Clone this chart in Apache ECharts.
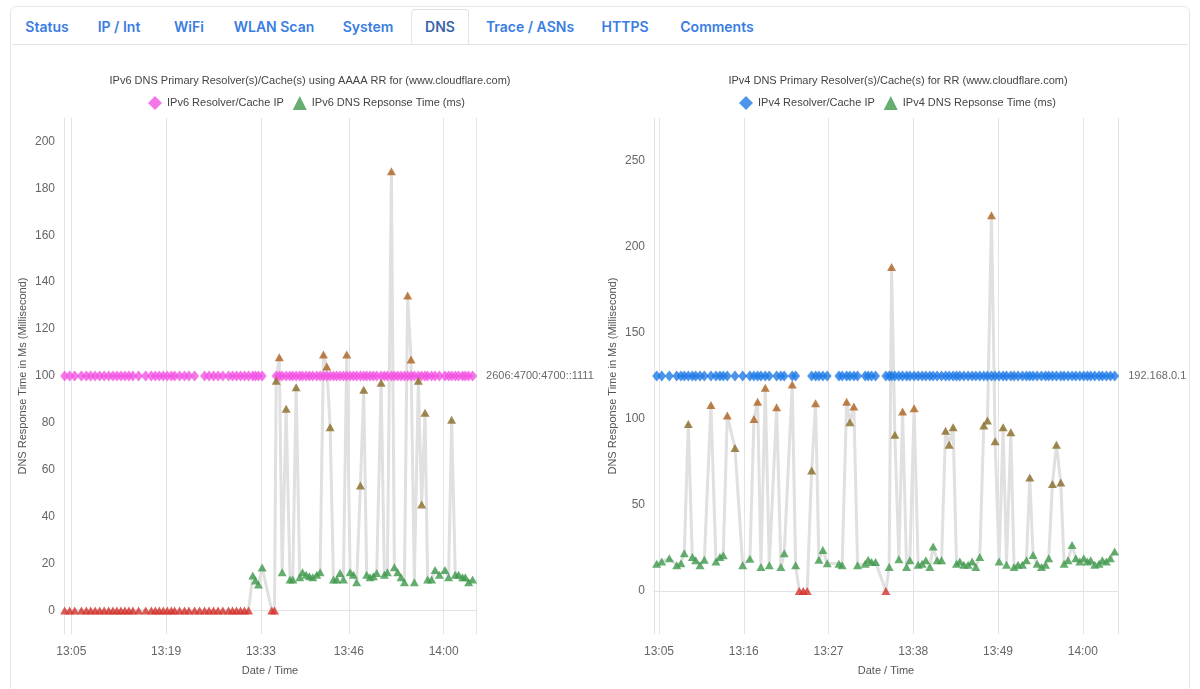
<!DOCTYPE html>
<html>
<head>
<meta charset="utf-8">
<script src="https://cdn.jsdelivr.net/npm/echarts@6/dist/echarts.min.js"></script>
<style>
html,body{margin:0;padding:0;background:#fff;width:1200px;height:689px;overflow:hidden;font-family:Inter,"Noto Sans",sans-serif;}
#card{position:absolute;left:10px;top:6px;width:1180px;height:720px;border:1px solid #e4e7eb;border-radius:6px;box-sizing:border-box;}
#tabs{position:absolute;left:12px;top:10px;width:1176px;height:34px;border-bottom:1px solid #dee2e6;}
.tab{position:absolute;top:0;height:34px;line-height:34px;font-size:14px;font-weight:600;color:#3a7de2;transform:translateX(-50%);white-space:nowrap;}
.tab.active{color:#3b66aa;background:#fff;border:1px solid #dee2e6;border-bottom:1px solid #fff;border-radius:4px 4px 0 0;padding:0 13px;height:35px;top:-1px;box-sizing:border-box;line-height:34px;}
#chart{position:absolute;left:0;top:0;width:1200px;height:689px;}
</style>
</head>
<body>
<div id="card"></div>
<div id="tabs"></div>
<div id="chart"></div>
<script>
// ---------- data ----------
const tabNames = ['Status', 'IP / Int', 'WiFi', 'WLAN Scan', 'System', 'DNS', 'Trace / ASNs', 'HTTPS', 'Comments'];
const activeTab = 'DNS';

const ipv6Title = 'IPv6 DNS Primary Resolver(s)/Cache(s) using AAAA RR for (www.cloudflare.com)';
const ipv4Title = 'IPv4 DNS Primary Resolver(s)/Cache(s) for RR (www.cloudflare.com)';
const ipv6ResolverName = 'IPv6 Resolver/Cache IP';
const ipv6RespName = 'IPv6 DNS Repsonse Time (ms)';
const ipv4ResolverName = 'IPv4 Resolver/Cache IP';
const ipv4RespName = 'IPv4 DNS Repsonse Time (ms)';
const ipv6ResolverIP = '2606:4700:4700::1111';
const ipv4ResolverIP = '192.168.0.1';
const yAxisName = 'DNS Response Time in Ms (Millisecond)';
const xAxisName = 'Date / Time';

// x tick labels (minutes after 13:00)
const ipv6XTicks = [5, 19, 33, 46, 60];
const ipv4XTicks = [5, 16, 27, 38, 49, 60];
const ipv6YTicks = [0, 20, 40, 60, 80, 100, 120, 140, 160, 180, 200];
const ipv4YTicks = [0, 50, 100, 150, 200, 250];

// sample times, minutes after 13:00
const ipv6Times = [
  4.01, 4.75, 5.49, 6.48, 7.21, 7.85, 8.51, 9.18, 9.84, 10.51,
  11.14, 11.73, 12.32, 12.91, 13.50, 14.09, 14.93, 15.97, 16.81, 17.40,
  17.99, 18.58, 19.17, 19.76, 20.25, 20.99, 21.72, 22.36, 23.20, 23.94,
  24.68, 25.34, 26.00, 26.67, 27.38, 28.22, 28.81, 29.40, 29.99, 30.58,
  31.17, 31.80, 32.20, 32.64, 33.19, 34.61, 35.01, 35.26, 35.72, 36.14,
  36.73, 37.30, 37.71, 38.21, 38.74, 39.14, 39.69, 40.17, 40.66, 41.25,
  41.75, 42.24, 42.73, 43.23, 43.72, 44.20, 44.70, 45.19, 45.68, 46.18,
  46.67, 47.15, 47.70, 48.19, 48.63, 49.13, 49.62, 50.11, 50.76, 51.24,
  51.69, 52.28, 52.72, 53.21, 53.71, 54.20, 54.68, 55.18, 55.67, 56.26,
  56.75, 57.25, 57.63, 58.22, 58.73, 59.36, 60.20, 60.73, 61.18, 61.72,
  62.21, 62.80, 63.20, 63.69, 64.28
];
const ipv6Resp = [
  0, 0, 0, 0, 0, 0, 0, 0, 0, 0,
  0, 0, 0, 0, 0, 0, 0, 0, 0, 0,
  0, 0, 0, 0, 0, 0, 0, 0, 0, 0,
  0, 0, 0, 0, 0, 0, 0, 0, 0, 0,
  0, 14.9, 12.8, 11.1, 18.3, 0, 0, 98, 108, 16.3,
  86, 13.2, 13.2, 95.2, 14.2, 16.3, 15.3, 14.6, 14.2, 15.3,
  16.3, 109.2, 104, 78.2, 13.2, 13.2, 16, 13.2, 109.2, 16.3,
  15.3, 12.1, 53.3, 94.1, 15.3, 14.2, 14.6, 16, 97.1, 15.3,
  16.3, 187.3, 18.5, 16.3, 14.2, 12.1, 134.3, 107, 12.1, 98,
  45.2, 84.3, 13.2, 13.2, 17.3, 15.3, 17.3, 14.2, 81.3, 15.3,
  15.3, 14.2, 14.2, 12.1, 13.2
];
// resolver marker level (null = no resolver recorded for that sample)
const ipv6Resolver = [
  100, 100, 100, 100, 100, 100, 100, 100, 100, 100,
  100, 100, 100, 100, 100, 100, 100, 100, 100, 100,
  100, 100, 100, 100, 100, 100, 100, 100, 100, null,
  100, 100, 100, 100, 100, 100, 100, 100, 100, 100,
  100, 100, 100, 100, 100, null, null, 100, 100, 100,
  100, 100, 100, 100, 100, 100, 100, 100, 100, 100,
  100, 100, 100, 100, 100, 100, 100, 100, 100, 100,
  100, 100, 100, 100, 100, 100, 100, 100, 100, 100,
  100, 100, 100, 100, 100, 100, 100, 100, 100, 100,
  100, 100, 100, 100, 100, 100, 100, 100, 100, 100,
  100, 100, 100, 100, 100
];

const ipv4Times = [
  4.70, 5.35, 6.34, 7.30, 7.85, 8.28, 8.80, 9.32, 9.76, 10.32,
  10.88, 11.74, 12.39, 12.91, 13.34, 13.86, 14.86, 15.86, 16.80, 17.32,
  17.80, 18.23, 18.79, 19.31, 20.27, 20.82, 21.25, 22.29, 22.73, 23.20,
  23.72, 24.23, 24.81, 25.32, 25.75, 26.27, 26.83, 28.35, 28.77, 29.35,
  29.77, 30.29, 30.77, 31.76, 32.15, 32.59, 33.11, 34.44, 34.87, 35.18,
  35.61, 36.13, 36.61, 37.13, 37.56, 38.11, 38.63, 39.15, 39.63, 40.15,
  40.58, 41.10, 41.67, 42.19, 42.65, 43.17, 43.61, 44.04, 44.56, 45.12,
  45.64, 46.12, 46.63, 47.15, 47.63, 48.15, 48.62, 49.14, 49.66, 50.10,
  50.66, 51.08, 51.60, 52.17, 52.69, 53.12, 53.55, 54.07, 54.64, 55.16,
  55.58, 56.06, 56.58, 57.14, 57.57, 58.09, 58.61, 59.09, 59.61, 60.13,
  60.60, 61.03, 61.55, 62.11, 62.54, 63.06, 63.58, 64.14
];
const ipv4Resp = [
  15.9, 17.1, 19.0, 15.0, 16.1, 22, 97.1, 19.8, 17.9, 15.0,
  18.1, 108.2, 17.1, 19.8, 20.8, 102, 83.2, 15.0, 18.8, 100,
  110.1, 14.0, 118.1, 15.0, 106.8, 14.0, 22, 120, 15.0, 0,
  0, 0, 70, 109.2, 18.1, 23.9, 16.1, 15.9, 15.0, 110.1,
  98.1, 107.2, 15.0, 15.9, 18.1, 16.9, 16.9, 0, 14.0, 188.4,
  90.9, 18.5, 104.3, 14, 17.9, 106.3, 15.2, 15.9, 17.9, 14,
  25.8, 17.9, 17.9, 93.2, 85.1, 95.2, 15.9, 17.1, 15.2, 15.2,
  17.1, 14, 19.8, 96.2, 99.1, 218.5, 87, 17.1, 95.2, 15.2,
  92.3, 14, 15.2, 15.2, 17.9, 66, 21, 15.9, 14, 15.2,
  19, 62.2, 85.1, 63.1, 15.9, 17.9, 26.8, 19, 17.1, 19,
  17.1, 17.9, 15.2, 15.9, 17.9, 17.1, 19, 22.9
];
const ipv4Resolver = [
  125, 125, 125, 125, 125, 125, 125, 125, 125, 125,
  125, 125, 125, 125, 125, 125, 125, 125, 125, 125,
  125, 125, 125, 125, 125, 125, 125, 125, 125, null,
  null, null, 125, 125, 125, 125, 125, 125, 125, 125,
  125, 125, 125, 125, 125, 125, 125, 125, 125, 125,
  125, 125, 125, 125, 125, 125, 125, 125, 125, 125,
  125, 125, 125, 125, 125, 125, 125, 125, 125, 125,
  125, 125, 125, 125, 125, 125, 125, 125, 125, 125,
  125, 125, 125, 125, 125, 125, 125, 125, 125, 125,
  125, 125, 125, 125, 125, 125, 125, 125, 125, 125,
  125, 125, 125, 125, 125, 125, 125, 125
];

// ---------- tabs ----------
const tabCenters = [47, 119, 189, 274, 368, 440, 530, 625, 717];
const tabsEl = document.getElementById('tabs');
tabNames.forEach((n, i) => {
  const d = document.createElement('div');
  d.className = 'tab' + (n === activeTab ? ' active' : '');
  d.style.left = (tabCenters[i] - 12) + 'px';
  d.textContent = n;
  tabsEl.appendChild(d);
});

// ---------- chart ----------
const FONT = '"Liberation Sans", Arial, sans-serif';
const GRID_LINE = '#e3e3e3';
const LABEL = '#666';

function clock(m) {
  const h = 13 + Math.floor(m / 60);
  const mm = Math.round(m % 60);
  return h + ':' + String(mm).padStart(2, '0');
}
function respColor(p) {
  const v = p.value[1];
  if (v === 0) return '#d2322b';
  if (v < 35) return '#3e9a4c';
  if (v < 100) return '#876b24';
  return '#ad611f';
}
function pairs(times, vals) {
  const out = [];
  times.forEach((t, i) => { if (vals[i] !== null) out.push([t, vals[i]]); });
  return out;
}
function resolverData(times, vals, ip) {
  const d = pairs(times, vals).map(v => ({ value: v }));
  d[d.length - 1].label = {
    show: true, position: 'right', distance: 9, formatter: ip,
    color: '#444', fontSize: 11, fontFamily: FONT
  };
  return d;
}
function xAxis(gi, min, max, ticks) {
  return {
    gridIndex: gi, type: 'value', min: min, max: max,
    name: xAxisName, nameLocation: 'middle', nameGap: 31,
    nameTextStyle: { color: '#555', fontSize: 11, fontFamily: FONT },
    axisLine: { show: true, lineStyle: { color: GRID_LINE } },
    axisTick: { show: false, customValues: ticks },
    axisLabel: { customValues: ticks, formatter: clock, color: LABEL, fontSize: 12, fontFamily: FONT, margin: 12 },
    splitLine: { show: true, lineStyle: { color: GRID_LINE, width: 1 } }
  };
}
function yAxis(gi, min, max, step, ticks) {
  return {
    gridIndex: gi, type: 'value', min: min, max: max, interval: step,
    name: yAxisName, nameLocation: 'middle', nameGap: 36,
    nameTextStyle: { color: '#555', fontSize: 11, fontFamily: FONT },
    axisLine: { show: true, lineStyle: { color: GRID_LINE } },
    axisTick: { show: false },
    axisLabel: {
      color: LABEL, fontSize: 12, fontFamily: FONT, margin: 9,
      formatter: v => ticks.indexOf(v) >= 0 ? String(v) : ''
    },
    splitLine: { show: false }
  };
}
function yBorder(gi, min, max) {
  return {
    gridIndex: gi, type: 'value', position: 'right', min: min, max: max,
    axisLine: { show: true, lineStyle: { color: GRID_LINE } },
    axisTick: { show: false }, axisLabel: { show: false }, splitLine: { show: false }
  };
}
function seriesFor(xi, yi, times, resp, resolver, ip, resName, respName, resColor) {
  return [
    {
      type: 'line', xAxisIndex: xi, yAxisIndex: yi, data: pairs(times, resp),
      showSymbol: false, symbol: 'none', silent: true, z: 1,
      lineStyle: { color: '#e0e0e0', width: 3 }
    },
    {
      name: resName, type: 'scatter', xAxisIndex: xi, yAxisIndex: yi,
      data: resolverData(times, resolver, ip),
      symbol: 'diamond', symbolSize: [9, 11], z: 3,
      itemStyle: { color: resColor }
    },
    {
      name: respName, type: 'scatter', xAxisIndex: xi, yAxisIndex: yi,
      data: pairs(times, resp), symbol: 'triangle', symbolSize: [9, 8], z: 4,
      itemStyle: { color: respColor }
    }
  ];
}
const legendText = { color: '#444', fontSize: 11, fontFamily: FONT };
const titleText = { fontSize: 11, fontWeight: 'normal', color: '#444', fontFamily: FONT };

const option = {
  backgroundColor: 'transparent',
  animation: false,
  textStyle: { fontFamily: FONT },
  title: [
    { text: ipv6Title, left: 305, top: 70, textAlign: 'center', textStyle: titleText },
    { text: ipv4Title, left: 893, top: 70, textAlign: 'center', textStyle: titleText }
  ],
  legend: [
    { left: 143, top: 91, itemWidth: 14, itemHeight: 14, itemGap: 9, textStyle: legendText,
      data: [
        { name: ipv6ResolverName, icon: 'diamond', itemStyle: { color: '#f354e3' } },
        { name: ipv6RespName, icon: 'triangle', itemStyle: { color: '#3e9a4c' } }
      ] },
    { left: 734, top: 91, itemWidth: 14, itemHeight: 14, itemGap: 9, textStyle: legendText,
      data: [
        { name: ipv4ResolverName, icon: 'diamond', itemStyle: { color: '#1f7ae6' } },
        { name: ipv4RespName, icon: 'triangle', itemStyle: { color: '#3e9a4c' } }
      ] }
  ],
  grid: [
    { left: 64, top: 118, width: 412, height: 516 },
    { left: 654, top: 118, width: 464, height: 516 }
  ],
  xAxis: [
    xAxis(0, 3.91, 64.78, ipv6XTicks),
    xAxis(1, 4.35, 64.57, ipv4XTicks)
  ],
  yAxis: [
    yAxis(0, -10, 210, 10, ipv6YTicks),
    yBorder(0, -10, 210),
    yAxis(1, -25, 275, 25, ipv4YTicks),
    yBorder(1, -25, 275)
  ],
  series: [].concat(
    seriesFor(0, 0, ipv6Times, ipv6Resp, ipv6Resolver, ipv6ResolverIP, ipv6ResolverName, ipv6RespName, '#f354e3'),
    seriesFor(1, 2, ipv4Times, ipv4Resp, ipv4Resolver, ipv4ResolverIP, ipv4ResolverName, ipv4RespName, '#1f7ae6')
  )
};
const chart = echarts.init(document.getElementById('chart'), null, { renderer: 'canvas' });
chart.setOption(option);
</script>
</body>
</html>
